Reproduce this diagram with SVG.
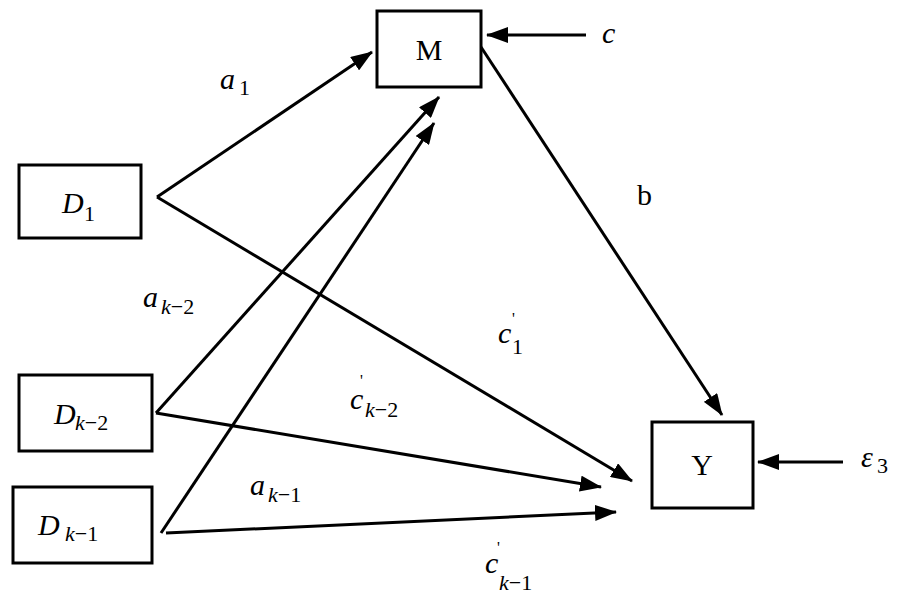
<svg xmlns="http://www.w3.org/2000/svg" width="897" height="600" viewBox="0 0 897 600">
<defs>
<marker id="ah" markerUnits="userSpaceOnUse" markerWidth="22" markerHeight="16" refX="21" refY="8" orient="auto">
<path d="M0,0 L22,8 L0,16 z" fill="#000"/>
</marker>
<style>
.box{fill:#fff;stroke:#000;stroke-width:3}
.ar{stroke:#000;stroke-width:3;fill:none;marker-end:url(#ah)}
.lbl{font-family:"Liberation Serif","DejaVu Serif",serif;font-size:30px;fill:#000}
.it{font-style:italic}
.up{font-style:normal}
.sub{font-size:22px}
.pr{font-size:16px;font-style:normal}
</style>
</defs>
<rect width="897" height="600" fill="#fff"/>
<g id="connectors">
<path class="ar" d="M157,197 L372,52"/>
<path class="ar" d="M157,197 L632,481"/>
<path class="ar" d="M156,413 L439,97"/>
<path class="ar" d="M156,413 L601,487"/>
<path class="ar" d="M161,533 L434,123"/>
<path class="ar" d="M166,533 L616,512"/>
<path class="ar" d="M481,47 L722,415"/>
<path class="ar" d="M586,35 L487,35"/>
<path class="ar" d="M843,462 L758,462"/>
</g>
<g id="node-M">
<rect class="box" x="377" y="11" width="104" height="76"/>
<text class="lbl" x="429" y="60" text-anchor="middle">M</text>
</g>
<g id="node-Y">
<rect class="box" x="652" y="422" width="101" height="86"/>
<text class="lbl" x="702" y="475" text-anchor="middle">Y</text>
</g>
<g id="node-D1">
<rect class="box" x="19" y="165" width="122" height="73"/>
<text class="lbl it" x="62" y="213">D<tspan class="sub up" x="84" y="221">1</tspan></text>
</g>
<g id="node-Dk2">
<rect class="box" x="19" y="375" width="133" height="76"/>
<text class="lbl it" x="54" y="424">D<tspan class="sub" x="75" y="430">k</tspan><tspan class="sub up">−2</tspan></text>
</g>
<g id="node-Dk1">
<rect class="box" x="13" y="487" width="139" height="76"/>
<text class="lbl it" x="38" y="535">D<tspan class="sub" x="65" y="541">k</tspan><tspan class="sub up">−1</tspan></text>
</g>
<g id="labels">
<text class="lbl it" x="602" y="43">c</text>
<text class="lbl it" x="861" y="467">ε<tspan class="sub up" x="877" y="473">3</tspan></text>
<text class="lbl" x="637" y="205">b</text>
<text class="lbl it" x="220" y="89">a<tspan class="sub up" x="239" y="95">1</tspan></text>
<text class="lbl it" x="143" y="307">a<tspan class="sub" x="161" y="314">k</tspan><tspan class="sub up">−2</tspan></text>
<text class="lbl it" x="250" y="495">a<tspan class="sub" x="268" y="502">k</tspan><tspan class="sub up">−1</tspan></text>
<text class="lbl it" x="498" y="343">c<tspan class="pr" x="512" y="324">'</tspan><tspan class="sub up" x="512" y="354">1</tspan></text>
<text class="lbl it" x="350" y="409">c<tspan class="pr" x="360" y="386">'</tspan><tspan class="sub" x="365" y="417">k</tspan><tspan class="sub up">−2</tspan></text>
<text class="lbl it" x="485" y="573">c<tspan class="pr" x="497" y="553">'</tspan><tspan class="sub" x="499" y="590">k</tspan><tspan class="sub up">−1</tspan></text>
</g>
</svg>
